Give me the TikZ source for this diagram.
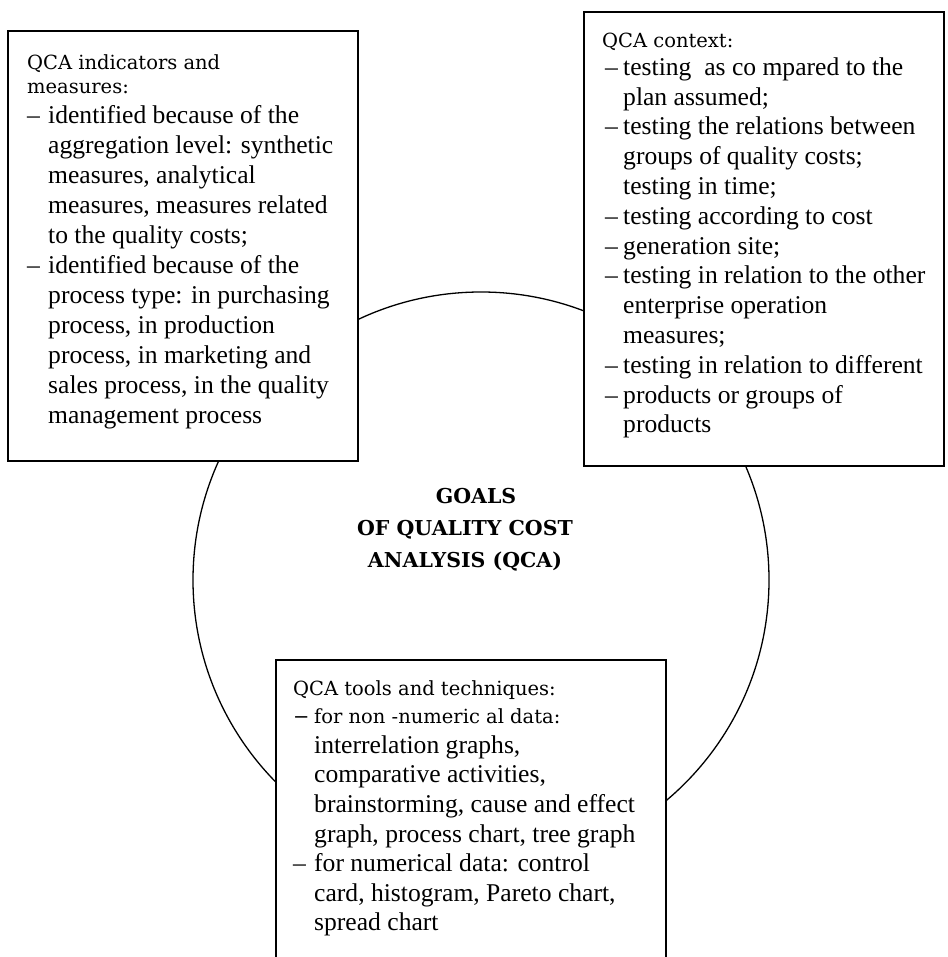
\documentclass[tikz,border=0pt]{standalone}
\usepackage{fontspec}
\setmainfont{Liberation Serif}
\newfontfamily\hdfont{DejaVu Serif}
\def\qw{20pt}
\newcommand\qitem{\makebox[\qw][l]{–}}
\newcommand\qcont{\hspace*{\qw}}
\begin{document}
\begin{tikzpicture}[x=1pt,y=-1pt,
  box/.style={draw=black, line width=1.4pt, fill=white, inner sep=0pt, rectangle},
  hd/.style={anchor=north west, inner sep=0pt, align=left,
     font={\hdfont\fontsize{19.5}{#1}\selectfont}},
  body/.style 2 args={anchor=north west, inner sep=0pt, align=left,
     font={\fontsize{25.6}{#1}\selectfont\def\qw{#2}}},
  ttl/.style={anchor=north, inner sep=0pt, align=center,
     font={\hdfont\bfseries\fontsize{20.5}{32}\selectfont}}]
\useasboundingbox (0,0) rectangle (947,957);
\clip (0,0) rectangle (947,957);
\fill[white] (0,0) rectangle (947,957);

% circle
\node[draw=black, line width=1.3pt, circle, minimum size=576pt, inner sep=0pt] (goal) at (481,580) {};

% boxes
\node[box, minimum width=350pt, minimum height=430pt] (lbox) at (183,246) {};
\node[box, minimum width=360pt, minimum height=454pt] (rbox) at (764,239) {};
\node[box, minimum width=390pt, minimum height=315pt] (bbox) at (471,817.5) {};

% title
\node[ttl] (title) at (465,486) {\rule{0pt}{17pt}\hspace*{22pt}GOALS\\OF QUALITY COST\\ANALYSIS (QCA)};

% left box text
\node[hd=24] (lhd) at (27,53) {\rule{0pt}{16pt}QCA indicators and\\measures:};
\node[body={30}{21pt}] (lbody) at (27,101) {\rule{0pt}{22pt}\qitem identified because of the\\
\qcont aggregation level: synthetic\\
\qcont measures, analytical\\
\qcont measures, measures related\\
\qcont to the quality costs;\\
\qitem identified because of the\\
\qcont process type: in purchasing\\
\qcont process, in production\\
\qcont process, in marketing and\\
\qcont sales process, in the quality\\
\qcont management process};

% right box text
\node[hd=24] (rhd) at (602,31) {\rule{0pt}{16pt}QCA context:};
\node[body={29.8}{18pt}] (rbody) at (605,53) {\rule{0pt}{22pt}\qitem testing\ \ as co mpared to the\\
\qcont plan assumed;\\
\qitem testing the relations between\\
\qcont groups of quality costs;\\
\qcont testing in time;\\
\qitem testing according to cost\\
\qitem generation site;\\
\qitem testing in relation to the other\\
\qcont enterprise operation\\
\qcont measures;\\
\qitem testing in relation to different\\
\qitem products or groups of\\
\qcont products};

% bottom box text
\node[hd=28] (bhd) at (293,679) {\rule{0pt}{16pt}QCA tools and techniques:\\\makebox[21pt][l]{−}for non -numeric al data:};
\node[body={29.6}{21pt}] (bbody) at (293,731) {\rule{0pt}{22pt}\qcont interrelation graphs,\\
\qcont comparative activities,\\
\qcont brainstorming, cause and effect\\
\qcont graph, process chart, tree graph\\
\qitem for numerical data: control\\
\qcont card, histogram, Pareto chart,\\
\qcont spread chart};
\end{tikzpicture}
\end{document}
